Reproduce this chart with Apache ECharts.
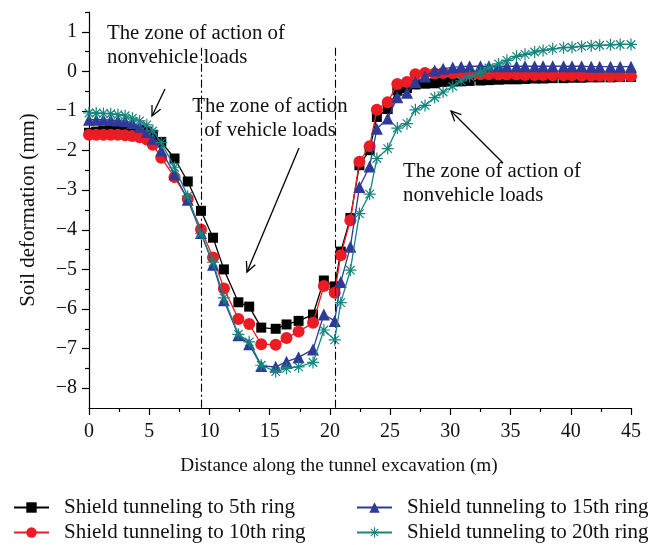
<!DOCTYPE html>
<html>
<head>
<meta charset="utf-8">
<script src="https://cdn.jsdelivr.net/npm/echarts@6/dist/echarts.min.js"></script>
<style>
  html, body { margin: 0; padding: 0; background: #fff; }
  #chart { width: 661px; height: 545px; }
</style>
</head>
<body>
<div id="chart"></div>
<script>
// Distance along the tunnel (m) of each monitoring point
const distance = [
  0, 0.6, 1.2, 1.8, 2.4, 3.0, 3.6, 4.2, 4.8, 5.3, 6.0, 7.1, 8.2, 9.3, 10.3, 11.2,
  12.4, 13.3, 14.3, 15.5, 16.4, 17.4, 18.6, 19.5, 20.4, 20.9, 21.7, 22.45, 23.3,
  23.9, 24.8, 25.6, 26.4, 27.1, 27.9, 28.7, 29.4, 30.2, 30.9, 31.6, 32.5, 33.2,
  34.0, 34.7, 35.5, 36.2, 37.0, 37.7, 38.5, 39.4, 40.1, 40.9, 41.7, 42.4, 43.3,
  44.1, 45.0
];

// Soil deformation (mm) for each excavation stage
const ring5 = [
  -1.55, -1.52, -1.50, -1.48, -1.47, -1.46, -1.46, -1.48, -1.52, -1.60, -1.78, -2.20,
  -2.78, -3.52, -4.20, -5.00, -5.83, -5.94, -6.47, -6.50, -6.39, -6.30, -6.14, -5.28,
  -5.43, -4.55, -3.70, -2.37, -1.99, -1.15, -0.95, -0.48, -0.42, -0.33, -0.31, -0.30,
  -0.27, -0.26, -0.25, -0.24, -0.23, -0.22, -0.21, -0.20, -0.20, -0.19, -0.18, -0.18,
  -0.17, -0.17, -0.16, -0.16, -0.15, -0.15, -0.15, -0.14, -0.14
];
const ring10 = [
  -1.60, -1.60, -1.60, -1.60, -1.60, -1.61, -1.63, -1.66, -1.72, -1.85, -2.18, -2.67,
  -3.22, -3.99, -4.70, -5.48, -6.25, -6.38, -6.89, -6.90, -6.73, -6.57, -6.35, -5.42,
  -5.59, -4.64, -3.76, -2.28, -1.89, -0.97, -0.78, -0.32, -0.27, -0.07, -0.04, -0.05,
  -0.04, -0.05, -0.06, -0.06, -0.07, -0.07, -0.08, -0.08, -0.08, -0.09, -0.09, -0.09,
  -0.10, -0.10, -0.10, -0.11, -0.11, -0.11, -0.12, -0.12, -0.12
];
const ring15 = [
  -1.22, -1.22, -1.22, -1.23, -1.24, -1.26, -1.30, -1.40, -1.53, -1.70, -2.00, -2.60,
  -3.24, -4.08, -4.88, -5.78, -6.66, -6.89, -7.44, -7.46, -7.33, -7.22, -7.02, -6.14,
  -6.30, -5.32, -4.43, -2.92, -2.40, -1.45, -1.19, -0.65, -0.54, -0.27, -0.13, 0.02,
  0.07, 0.10, 0.12, 0.13, 0.13, 0.13, 0.13, 0.13, 0.13, 0.13, 0.13, 0.13,
  0.13, 0.13, 0.13, 0.13, 0.12, 0.12, 0.12, 0.12, 0.12
];
const ring20 = [
  -1.05, -1.05, -1.06, -1.07, -1.09, -1.12, -1.18, -1.25, -1.35, -1.50, -1.80, -2.42,
  -3.15, -4.10, -4.82, -5.72, -6.64, -6.83, -7.42, -7.58, -7.50, -7.46, -7.35, -6.53,
  -6.78, -5.84, -5.02, -3.59, -3.10, -2.20, -1.95, -1.43, -1.32, -0.97, -0.86, -0.66,
  -0.52, -0.38, -0.24, -0.13, -0.02, 0.09, 0.19, 0.28, 0.38, 0.43, 0.49, 0.53,
  0.57, 0.60, 0.61, 0.63, 0.65, 0.66, 0.67, 0.68, 0.68
];

const seriesNames = [
  'Shield tunneling to 5th ring',
  'Shield tunneling to 10th ring',
  'Shield tunneling to 15th ring',
  'Shield tunneling to 20th ring'
];

// Boundaries of the vehicle-load zone (m)
const zoneBounds = [9.35, 20.45];

const xTicks = [0, 5, 10, 15, 20, 25, 30, 35, 40, 45];
const yTicks = [-8, -7, -6, -5, -4, -3, -2, -1, 0, 1];
const yMinorTicks = [-7.5, -6.5, -5.5, -4.5, -3.5, -2.5, -1.5, -0.5, 0.5, 1.5];

const FONT = '"Liberation Serif", "Times New Roman", serif';
const colors = ['#000000', '#ec1c24', '#2e3a97', '#16847f'];

// eight-armed asterisk marker
const starPath = 'path://M-1,-10L1,-10L1,10L-1,10Z M-10,-1L10,-1L10,1L-10,1Z ' +
  'M-6.36,-7.78L7.78,6.36L6.36,7.78L-7.78,-6.36Z M-7.78,6.36L6.36,-7.78L7.78,-6.36L-6.36,7.78Z';

const symbols = ['rect', 'circle', 'triangle', starPath];
const symbolSizes = [10, 12, 12, 12];
const values = [ring5, ring10, ring15, ring20];

const chart = echarts.init(document.getElementById('chart'), null, { renderer: 'canvas' });

const minus = v => String(v).replace('-', '\u2212');

const series = values.map((vals, i) => ({
  name: seriesNames[i],
  type: 'line',
  data: distance.map((x, k) => [x, vals[k]]),
  symbol: symbols[i],
  symbolSize: symbolSizes[i],
  showAllSymbol: true,
  lineStyle: { color: colors[i], width: 1.3 },
  itemStyle: { color: colors[i] },
  z: 3 + i,
  animation: false
}));

series[0].markLine = {
  silent: true,
  symbol: 'none',
  label: { show: false },
  lineStyle: { color: '#000', width: 1.1, type: [8, 3, 2, 3] },
  data: zoneBounds.map(b => [{ coord: [b, 0.6] }, { coord: [b, -8.5] }]),
  animation: false
};

function arrow(x1, y1, x2, y2) {
  const ang = Math.atan2(y2 - y1, x2 - x1);
  const len = 11, spread = 0.45;
  const a1 = ang + Math.PI - spread, a2 = ang + Math.PI + spread;
  const style = { stroke: '#000', lineWidth: 1.3, fill: null };
  return [
    { type: 'line', shape: { x1, y1, x2, y2 }, style, silent: true },
    { type: 'polyline', shape: { points: [
        [x2 + len * Math.cos(a1), y2 + len * Math.sin(a1)], [x2, y2],
        [x2 + len * Math.cos(a2), y2 + len * Math.sin(a2)]] }, style, silent: true }
  ];
}

function note(text, x, y, align) {
  return {
    type: 'text', x, y, silent: true,
    style: { text, font: '20.8px ' + FONT, fill: '#111', lineHeight: 24,
             textAlign: align, textVerticalAlign: 'top' }
  };
}

// one legend block per entry, laid out in two columns
const legendPos = [[8, 492], [8, 517], [351, 492], [351, 517]];
const legends = seriesNames.map((name, i) => ({
  left: legendPos[i][0],
  top: legendPos[i][1],
  orient: 'horizontal',
  itemWidth: 35,
  itemHeight: 13,
  textStyle: { fontFamily: FONT, fontSize: 21, color: '#111', padding: [0, 0, 0, 10] },
  selectedMode: false,
  data: [name]
}));

chart.setOption({
  animation: false,
  textStyle: { fontFamily: FONT },
  grid: { left: 89, right: 30, top: 12, bottom: 137, containLabel: false },
  legend: legends,
  xAxis: {
    type: 'value', min: 0, max: 45, interval: 5,
    name: 'Distance along the tunnel excavation (m)',
    nameLocation: 'middle', nameGap: 48,
    nameTextStyle: { fontFamily: FONT, fontSize: 19.3, color: '#111', padding: [0, 42, 0, 0] },
    axisLine: { show: true, onZero: false, lineStyle: { color: '#000', width: 1.2 } },
    axisTick: { show: true, length: 7, lineStyle: { color: '#000', width: 1.2 } },
    minorTick: { show: true, splitNumber: 2, length: 4, lineStyle: { color: '#000', width: 1.2 } },
    axisLabel: { fontFamily: FONT, fontSize: 20, color: '#111', margin: 14,
                 customValues: xTicks },
    splitLine: { show: false }
  },
  yAxis: [{
    type: 'value', min: -8.5, max: 1.5,
    name: 'Soil deformation (mm)',
    nameLocation: 'middle', nameGap: 50, nameRotate: 90,
    nameTextStyle: { fontFamily: FONT, fontSize: 21, color: '#111' },
    axisLine: { show: true, onZero: false, lineStyle: { color: '#000', width: 1.2 } },
    axisTick: { show: true, length: 7, customValues: yTicks, lineStyle: { color: '#000', width: 1.2 } },
    axisLabel: { fontFamily: FONT, fontSize: 20, color: '#111', margin: 12,
                 customValues: yTicks, formatter: v => minus(v) },
    splitLine: { show: false }
  }, {
    type: 'value', min: -8.5, max: 1.5, position: 'left',
    axisLine: { show: false },
    axisTick: { show: true, length: 4, customValues: yMinorTicks, lineStyle: { color: '#000', width: 1.2 } },
    axisLabel: { show: false },
    splitLine: { show: false }
  }],
  series,
  graphic: [
    note('The zone of action of\nnonvehicle loads', 107, 22, 'left'),
    note('The zone of action\nof vehicle loads', 270, 95, 'center'),
    note('The zone of action of\nnonvehicle loads', 403, 160, 'left'),
    ...arrow(165, 89, 152, 116),
    ...arrow(299, 148, 247, 272),
    ...arrow(503, 163, 451, 111)
  ]
});
</script>
</body>
</html>
